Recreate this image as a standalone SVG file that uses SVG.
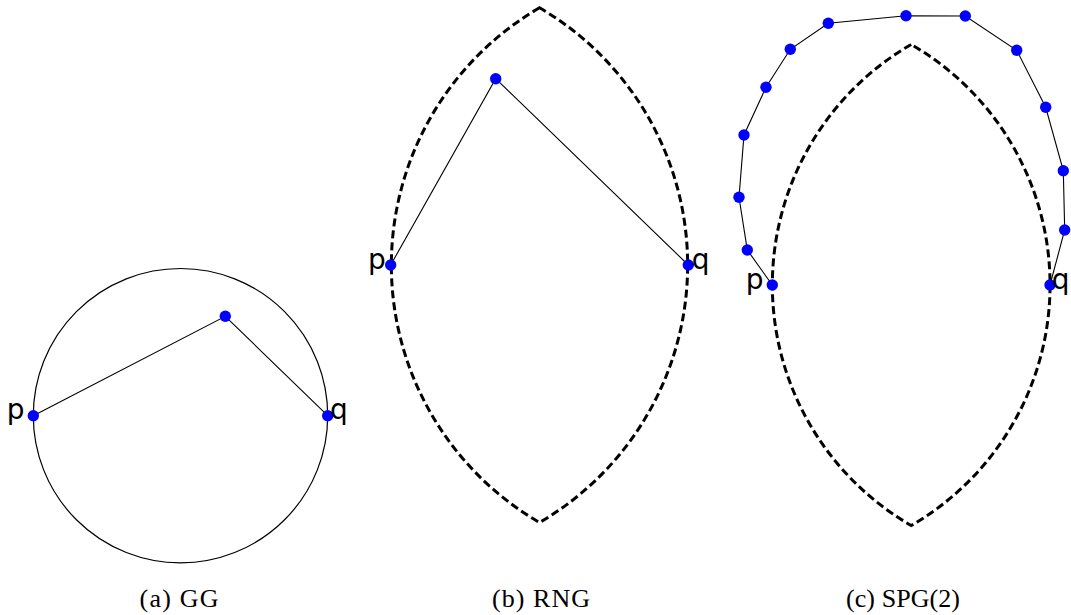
<svg xmlns="http://www.w3.org/2000/svg" width="1071" height="615" viewBox="0 0 1071 615">
<style>
.bg{fill:#ffffff}
.edge{fill:none;stroke:#000;stroke-width:1.1}
.circ{fill:none;stroke:#000;stroke-width:1.2}
.lune{fill:none;stroke:#000;stroke-width:3;stroke-dasharray:8 4}
.pt{fill:#0000ff}
.lbl{font-family:"DejaVu Sans",sans-serif;font-size:28px;fill:#000}
.cap{font-family:"Liberation Serif",serif;font-size:26px;fill:#000}
</style>
<rect class="bg" x="0" y="0" width="1071" height="615"/>
<g id="regions">
  <circle id="gg-circle" class="circ" cx="180.5" cy="415.7" r="147.2"/>
  <path id="rng-lune" class="lune" d="M539.5 7.8 A297.6 297.6 0 0 0 539.5 522.5 A297.6 297.6 0 0 0 539.5 7.8 Z"/>
  <path id="spg-lune" class="lune" d="M911.2 44.5 A277.7 277.7 0 0 0 911.2 525.5 A277.7 277.7 0 0 0 911.2 44.5 Z"/>
</g>
<g id="connectors">
  <polyline class="edge" points="33.3,415.7 225.3,316.3 327.7,415.7"/>
  <polyline class="edge" points="390.7,265 495.7,78.7 688.3,265"/>
  <polyline class="edge" points="772.3,285 747.3,250 739,197.3 744,135 766,87.3 790.3,49.3 828.3,23.3 906,15.7 965.3,16 1016.7,50.3 1045.7,107.3 1063.3,170.7 1064.7,230 1050,285"/>
</g>
<g id="node-a-p"><circle class="pt" cx="33.3" cy="415.7" r="5.7"/><text class="lbl" x="6.7" y="419">p</text></g>
<g id="node-a-q"><circle class="pt" cx="327.7" cy="415.7" r="5.7"/><text class="lbl" x="330" y="419">q</text></g>
<g id="node-a-m"><circle class="pt" cx="225.3" cy="316.3" r="5.7"/></g>
<g id="node-b-p"><circle class="pt" cx="390.7" cy="265" r="5.7"/><text class="lbl" x="368" y="268.5">p</text></g>
<g id="node-b-q"><circle class="pt" cx="688.3" cy="265" r="5.7"/><text class="lbl" x="691.7" y="268.5">q</text></g>
<g id="node-b-m"><circle class="pt" cx="495.7" cy="78.7" r="5.7"/></g>
<g id="node-c-p"><circle class="pt" cx="772.3" cy="285" r="5.7"/><text class="lbl" x="745.7" y="289">p</text></g>
<g id="node-c-q"><circle class="pt" cx="1050" cy="285" r="5.7"/><text class="lbl" x="1051.7" y="289">q</text></g>
<g id="node-c-1"><circle class="pt" cx="747.3" cy="250" r="5.7"/></g>
<g id="node-c-2"><circle class="pt" cx="739" cy="197.3" r="5.7"/></g>
<g id="node-c-3"><circle class="pt" cx="744" cy="135" r="5.7"/></g>
<g id="node-c-4"><circle class="pt" cx="766" cy="87.3" r="5.7"/></g>
<g id="node-c-5"><circle class="pt" cx="790.3" cy="49.3" r="5.7"/></g>
<g id="node-c-6"><circle class="pt" cx="828.3" cy="23.3" r="5.7"/></g>
<g id="node-c-7"><circle class="pt" cx="906" cy="15.7" r="5.7"/></g>
<g id="node-c-8"><circle class="pt" cx="965.3" cy="16" r="5.7"/></g>
<g id="node-c-9"><circle class="pt" cx="1016.7" cy="50.3" r="5.7"/></g>
<g id="node-c-10"><circle class="pt" cx="1045.7" cy="107.3" r="5.7"/></g>
<g id="node-c-11"><circle class="pt" cx="1063.3" cy="170.7" r="5.7"/></g>
<g id="node-c-12"><circle class="pt" cx="1064.7" cy="230" r="5.7"/></g>
<g id="captions">
  <text class="cap" x="139.5" y="607" textLength="79" lengthAdjust="spacing">(a) GG</text>
  <text class="cap" x="492" y="607" textLength="98" lengthAdjust="spacing">(b) RNG</text>
  <text class="cap" x="846" y="607" textLength="114" lengthAdjust="spacing">(c) SPG(2)</text>
</g>
</svg>
